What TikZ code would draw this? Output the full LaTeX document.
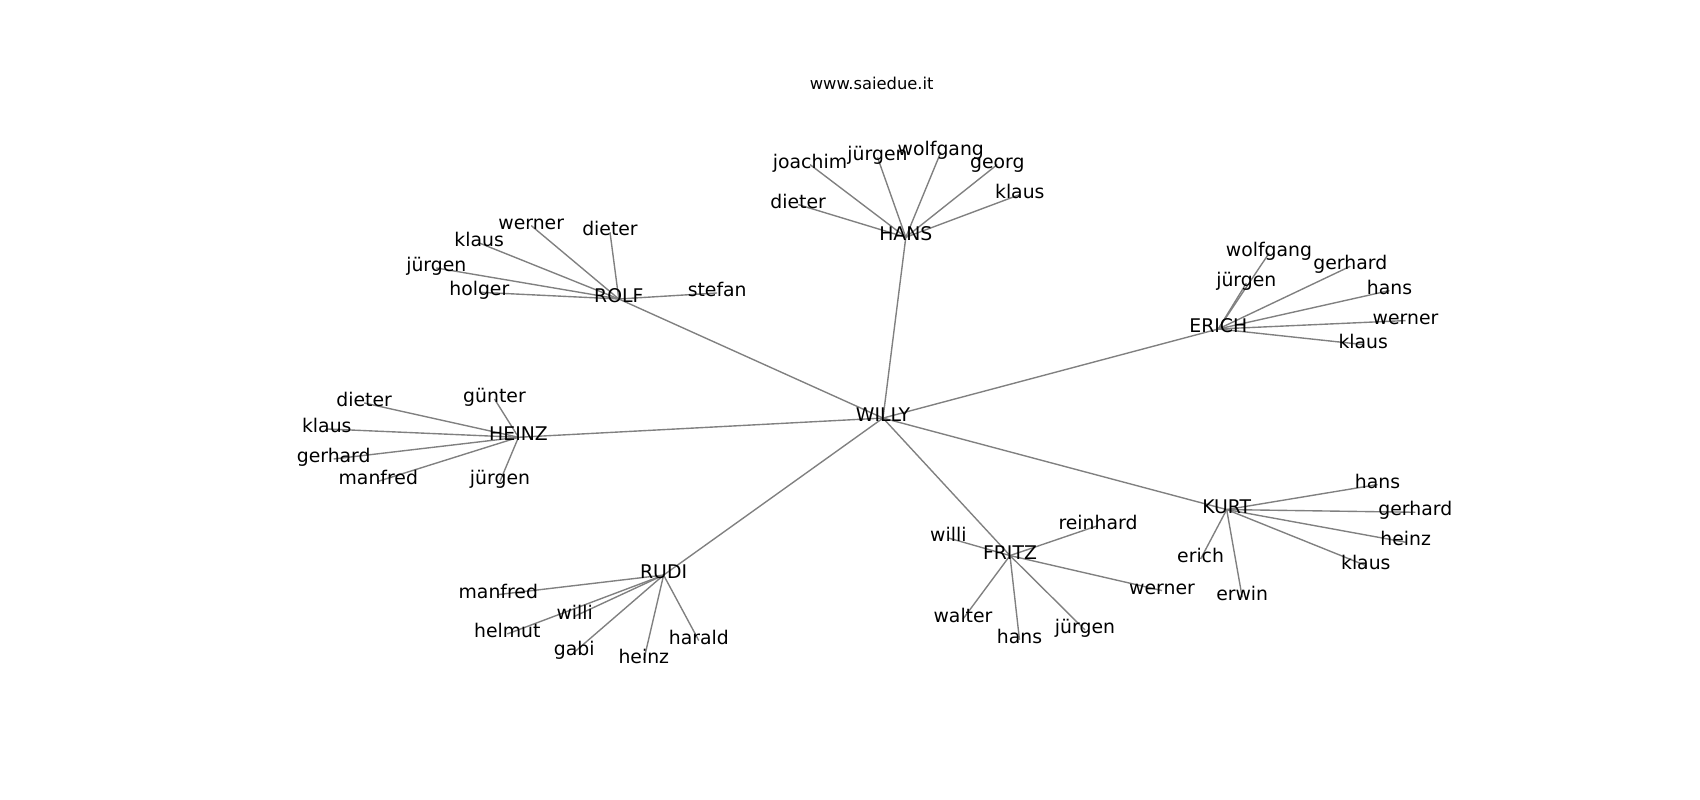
\documentclass[tikz,border=0pt]{standalone}
\usepackage{fontspec}
\setmainfont{DejaVu Sans}
\usetikzlibrary{backgrounds}
\begin{document}
\begin{tikzpicture}[x=0.01in, y=-0.01in,
		lbl/.style={inner sep=0pt, yshift=-1.5pt, text height=0.76em, text depth=0.236em, font=\fontsize{13.6}{16}\selectfont},
		link/.style={draw=gray, line width=1pt}]
		\useasboundingbox (0,0) rectangle (1700,800);
		\node(T)[inner sep=0pt, font=\fontsize{11.8}{14}\selectfont] at (871.7,83.5){www.saiedue.it};
		% centre
		\node(W)[lbl] at (883,416){WILLY};
		\node(HA)[lbl] at (905.8,235.2){HANS};
		\node(RO)[lbl] at (618.8,296.9){ROLF};
		\node(HE)[lbl] at (518.5,435.2){HEINZ};
		\node(ER)[lbl] at (1218.3,326.9){ERICH};
		\node(KU)[lbl] at (1226.7,507.5){KURT};
		\node(RU)[lbl] at (663.6,573){RUDI};
		\node(FR)[lbl] at (1010,553.5){FRITZ};
		% HANS
		\node(HA1)[lbl] at (810,162.5){joachim};
		\node(HA2)[lbl] at (877.5,155.2){jürgen};
		\node(HA3)[lbl] at (940.8,150.2){wolfgang};
		\node(HA4)[lbl] at (997.3,162.5){georg};
		\node(HA5)[lbl] at (1019.8,192.5){klaus};
		\node(HA6)[lbl] at (798.2,202.5){dieter};
		% ROLF
		\node(RO1)[lbl] at (531.2,223.5){werner};
		\node(RO2)[lbl] at (610,230.2){dieter};
		\node(RO3)[lbl] at (479.2,240.9){klaus};
		\node(RO4)[lbl] at (436.3,265.9){jürgen};
		\node(RO5)[lbl] at (479.3,290.2){holger};
		\node(RO6)[lbl] at (717.2,290.9){stefan};
		% HEINZ
		\node(HE1)[lbl] at (364.2,400.9){dieter};
		\node(HE2)[lbl] at (494.5,396.9){günter};
		\node(HE3)[lbl] at (326.8,426.9){klaus};
		\node(HE4)[lbl] at (333.7,456.9){gerhard};
		\node(HE5)[lbl] at (378.3,479.2){manfred};
		\node(HE6)[lbl] at (500,479.2){jürgen};
		% ERICH
		\node(ER1)[lbl] at (1269,251.2){wolfgang};
		\node(ER2)[lbl] at (1350.3,264.2){gerhard};
		\node(ER3)[lbl] at (1246.3,281.2){jürgen};
		\node(ER4)[lbl] at (1389.5,288.5){hans};
		\node(ER5)[lbl] at (1405.5,318.5){werner};
		\node(ER6)[lbl] at (1363.2,342.5){klaus};
		% KURT
		\node(KU1)[lbl] at (1377.5,482.5){hans};
		\node(KU2)[lbl] at (1415.3,510.2){gerhard};
		\node(KU3)[lbl] at (1405.7,540.2){heinz};
		\node(KU4)[lbl] at (1365.8,563.5){klaus};
		\node(KU5)[lbl] at (1200.6,556.9){erich};
		\node(KU6)[lbl] at (1242.2,595.2){erwin};
		% RUDI
		\node(RU1)[lbl] at (498.3,592.5){manfred};
		\node(RU2)[lbl] at (574.7,614.2){willi};
		\node(RU3)[lbl] at (507.3,631.9){helmut};
		\node(RU4)[lbl] at (574.2,650.2){gabi};
		\node(RU5)[lbl] at (643.8,657.9){heinz};
		\node(RU6)[lbl] at (698.8,638.5){harald};
		% FRITZ
		\node(FR1)[lbl] at (948.3,535.9){willi};
		\node(FR2)[lbl] at (1098,523.5){reinhard};
		\node(FR3)[lbl] at (1162,588.5){werner};
		\node(FR4)[lbl] at (963,616.9){walter};
		\node(FR5)[lbl] at (1085,627.9){jürgen};
		\node(FR6)[lbl] at (1019.5,637.9){hans};
		\begin{scope}[on background layer]
		\draw[link](W.center) to (HA.center);
		\draw[link](W.center) to (RO.center);
		\draw[link](W.center) to (HE.center);
		\draw[link](W.center) to (ER.center);
		\draw[link](W.center) to (KU.center);
		\draw[link](W.center) to (RU.center);
		\draw[link](W.center) to (FR.center);
		\draw[link](HA.center) to (HA1.center);
		\draw[link](HA.center) to (HA2.center);
		\draw[link](HA.center) to (HA3.center);
		\draw[link](HA.center) to (HA4.center);
		\draw[link](HA.center) to (HA5.center);
		\draw[link](HA.center) to (HA6.center);
		\draw[link](RO.center) to (RO1.center);
		\draw[link](RO.center) to (RO2.center);
		\draw[link](RO.center) to (RO3.center);
		\draw[link](RO.center) to (RO4.center);
		\draw[link](RO.center) to (RO5.center);
		\draw[link](RO.center) to (RO6.center);
		\draw[link](HE.center) to (HE1.center);
		\draw[link](HE.center) to (HE2.center);
		\draw[link](HE.center) to (HE3.center);
		\draw[link](HE.center) to (HE4.center);
		\draw[link](HE.center) to (HE5.center);
		\draw[link](HE.center) to (HE6.center);
		\draw[link](ER.center) to (ER1.center);
		\draw[link](ER.center) to (ER2.center);
		\draw[link](ER.center) to (ER3.center);
		\draw[link](ER.center) to (ER4.center);
		\draw[link](ER.center) to (ER5.center);
		\draw[link](ER.center) to (ER6.center);
		\draw[link](KU.center) to (KU1.center);
		\draw[link](KU.center) to (KU2.center);
		\draw[link](KU.center) to (KU3.center);
		\draw[link](KU.center) to (KU4.center);
		\draw[link](KU.center) to (KU5.center);
		\draw[link](KU.center) to (KU6.center);
		\draw[link](RU.center) to (RU1.center);
		\draw[link](RU.center) to (RU2.center);
		\draw[link](RU.center) to (RU3.center);
		\draw[link](RU.center) to (RU4.center);
		\draw[link](RU.center) to (RU5.center);
		\draw[link](RU.center) to (RU6.center);
		\draw[link](FR.center) to (FR1.center);
		\draw[link](FR.center) to (FR2.center);
		\draw[link](FR.center) to (FR3.center);
		\draw[link](FR.center) to (FR4.center);
		\draw[link](FR.center) to (FR5.center);
		\draw[link](FR.center) to (FR6.center);
		\end{scope}
	\end{tikzpicture}
\end{document}
